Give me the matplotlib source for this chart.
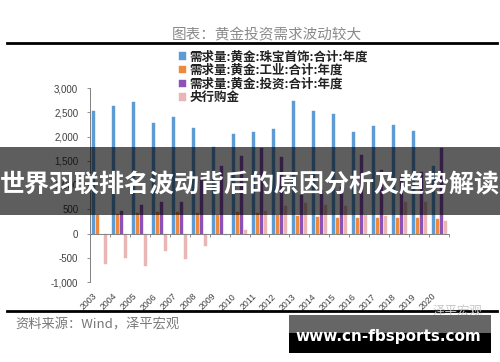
import numpy as np
import matplotlib
matplotlib.use("Agg")
import matplotlib.pyplot as plt
from matplotlib.patches import Rectangle
from matplotlib.lines import Line2D

plt.rcParams['font.family'] = ['Noto Sans CJK SC', 'DejaVu Sans']

years = [str(y) for y in range(2003, 2021)]
jewelry = [2517, 2620, 2703, 2276, 2392, 2172, 1790, 2050, 2102, 2151, 2724, 2531, 2462, 2102, 2226, 2240, 2122, 1390]
industrial = [380, 395, 414, 442, 442, 420, 385, 440, 428, 373, 352, 345, 325, 318, 320, 322, 318, 297]
investment = [np.nan, 462, 593, 643, 650, 1160, 1382, 1589, 1764, 1577, 800, 905, 968, 1624, 1313, 1159, 1272, 1761]
central_bank = [-630, -498, -678, -367, -519, -263, -30, 75, 470, 565, 635, 587, 565, 373, 365, 643, 640, 255]

series_names = ["需求量:黄金:珠宝首饰:合计:年度", "需求量:黄金:工业:合计:年度",
                "需求量:黄金:投资:合计:年度", "央行购金"]
series_colors = ["#5f9bd3", "#ee8a3e", "#8d52b8", "#e9b5b5"]
yticks = [-1000, -500, 0, 500, 1000, 1500, 2000, 2500, 3000]

title = "图表：黄金投资需求波动较大"
source = "资料来源：Wind，泽平宏观"
banner = "世界羽联排名波动背后的原因分析及趋势解读"
site = "www.cn-fbsports.com"

W, H = 500, 362
fig = plt.figure(figsize=(W / 100, H / 100), dpi=100)
fig.patch.set_facecolor("white")

def fx(x):
    return x / W

def fy(y):
    return 1 - y / H

ax = fig.add_axes([fx(90), fy(282), fx(449) - fx(90), fy(88) - fy(282)])
x = np.arange(len(years))
offs = [-0.3, -0.1, 0.1, 0.3]
handles = []
for vals, off, col, name in zip([jewelry, industrial, investment, central_bank], offs, series_colors, series_names):
    b = ax.bar(x + off, vals, width=0.15, color=col, edgecolor=col, linewidth=0.3, label=name, zorder=2)
    handles.append(b)

ax.set_xlim(-0.5, len(years) - 0.5)
ax.set_ylim(-1000, 3000)
ax.set_yticks(yticks)
ax.set_yticklabels([f"{v:,}" for v in yticks], family="Liberation Sans", fontsize=7, color="#404040")
ax.tick_params(axis="y", length=2.5, width=0.6, color="#808080", pad=6)

for s in ["top", "right"]:
    ax.spines[s].set_visible(False)
ax.spines["left"].set_color("#808080")
ax.spines["left"].set_linewidth(0.7)
ax.spines["bottom"].set_position(("data", 0))
ax.spines["bottom"].set_color("#808080")
ax.spines["bottom"].set_linewidth(0.7)
ax.set_xticks(np.arange(-0.5, len(years), 1.0))
ax.set_xticklabels([])
ax.tick_params(axis="x", length=2.5, width=0.6, color="#808080")

for i, yr in enumerate(years):
    ax.annotate(yr, xy=(i, 0), xycoords=("data", "axes fraction"), xytext=(-1, -7),
                textcoords="offset points", rotation=45, ha="right", va="top",
                fontsize=6.3, family="Liberation Sans", color="#404040")

leg = fig.legend(handles=handles, labels=series_names, loc="upper left",
                 bbox_to_anchor=(fx(174), fy(45.5)), frameon=False, fontsize=9,
                 handlelength=0.55, handleheight=0.55, handletextpad=0.3,
                 labelspacing=0.05, borderaxespad=0)
for t in leg.get_texts():
    t.set_fontweight("bold")
    t.set_color("#222222")

fig.text(fx(267), fy(35), title, ha="center", va="center", fontsize=10.5, color="#8a8a8a")
fig.add_artist(Line2D([fx(7), fx(497)], [fy(43), fy(43)], color="black", lw=2.0))
fig.add_artist(Line2D([fx(7), fx(497)], [fy(310.5), fy(310.5)], color="black", lw=2.0))
fig.text(fx(15), fy(325), source, ha="left", va="center", fontsize=9.5, color="#777777", style="italic")
fig.text(fx(458), fy(311), "泽平宏观", ha="center", va="center", fontsize=9, color="#c8c8c8")

fig.add_artist(Rectangle((0, fy(215)), 1, fy(147) - fy(215), transform=fig.transFigure,
                         facecolor="black", alpha=0.63, edgecolor="none", zorder=10))
fig.text(0.5, fy(185), banner, ha="center", va="center", fontsize=18, fontweight="bold",
         color="white", zorder=11)

fig.add_artist(Rectangle((fx(289), fy(333)), fx(491) - fx(289), fy(315) - fy(333),
                         transform=fig.transFigure, facecolor="#666666", edgecolor="none", zorder=10))
fig.add_artist(Rectangle((fx(289), fy(353)), fx(491) - fx(289), fy(333) - fy(353),
                         transform=fig.transFigure, facecolor="black", edgecolor="none", zorder=10))
fig.text(fx(388), fy(337), site, ha="center", va="center", fontsize=11, fontweight="bold",
         color="white", family="DejaVu Sans", zorder=11)

fig.savefig("out.png", dpi=100)
